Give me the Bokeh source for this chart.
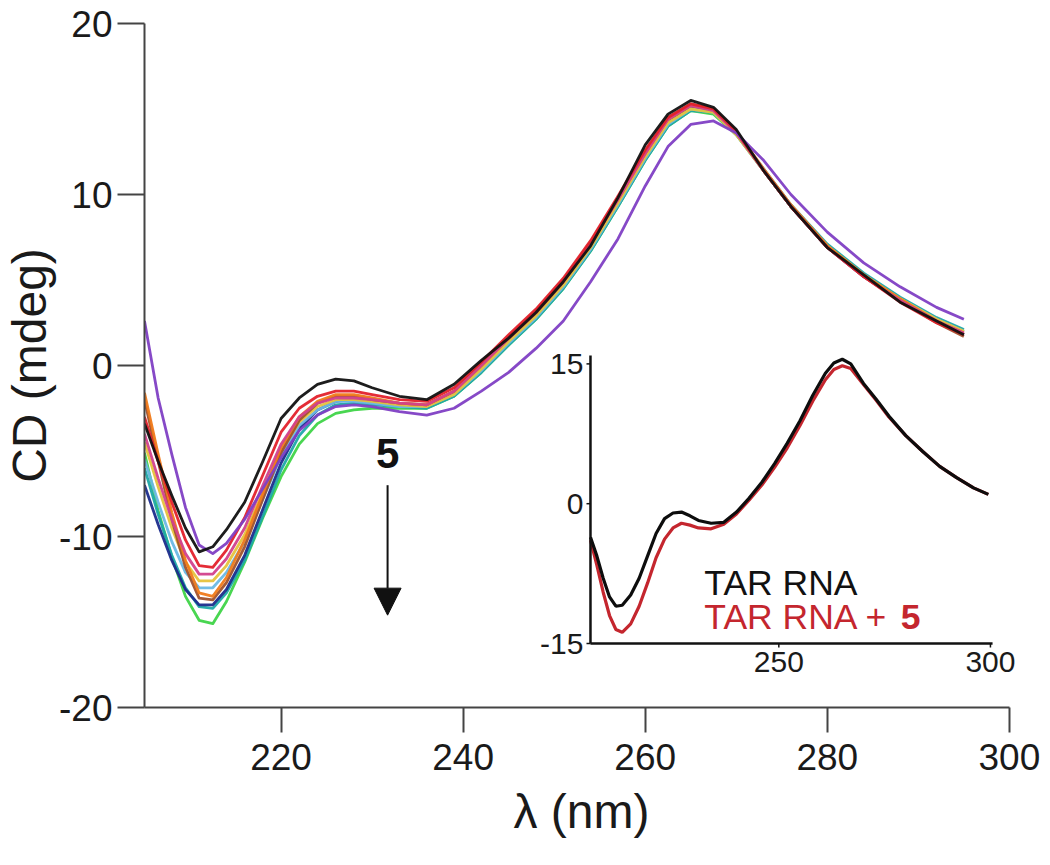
import math
from bokeh.plotting import figure
from bokeh.models import Range1d, Label, Arrow, NormalHead, FixedTicker, ColumnDataSource
from bokeh.core.properties import value
from bokeh.embed import file_html
from bokeh.resources import INLINE

# ---------------- data: main panel (CD titration spectra) ----------------
wavelength = [205, 206.5, 208, 209.5, 211, 212.5, 214, 216, 218, 220, 222, 224, 226, 228,
              230, 233, 236, 239, 242, 245, 248, 251, 254, 257, 260, 262.5, 265, 267.5,
              270, 273, 276, 280, 284, 288, 292, 295]

cd_green = [-5.1, -8.5, -11.2, -13.5, -14.9, -15.1, -13.8, -11.5, -8.9, -6.5, -4.6, -3.4, -2.8, -2.6,
            -2.5, -2.5, -2.5, -1.8, -0.4, 1.2, 2.7, 4.5, 6.7, 9.3, 12.0, 14.0, 14.9, 14.7,
            13.5, 11.4, 9.3, 7.0, 5.3, 3.9, 2.7, 2.0]
cd_teal = [-6.0, -8.7, -11.1, -13.0, -14.1, -14.2, -13.3, -11.4, -8.8, -6.1, -4.1, -2.9, -2.3, -2.2,
           -2.3, -2.4, -2.5, -1.8, -0.4, 1.2, 2.7, 4.5, 6.7, 9.3, 12.0, 14.0, 14.9, 14.8,
           13.6, 11.5, 9.4, 7.1, 5.4, 4.0, 2.8, 2.1]
cd_navy = [-7.0, -9.3, -11.4, -13.1, -14.0, -14.0, -13.1, -11.1, -8.4, -5.7, -3.7, -2.6, -2.1, -2.0,
           -2.1, -2.3, -2.4, -1.6, -0.1, 1.5, 3.0, 4.8, 7.0, 9.6, 12.3, 14.3, 15.1, 14.9,
           13.6, 11.4, 9.3, 6.9, 5.2, 3.8, 2.6, 1.8]
cd_lightblue = [-5.5, -8.0, -10.3, -12.1, -13.0, -13.0, -12.1, -10.3, -7.8, -5.3, -3.5, -2.6, -2.1, -2.1,
                -2.2, -2.4, -2.4, -1.7, -0.3, 1.3, 2.8, 4.6, 6.8, 9.4, 12.1, 14.1, 15.0, 14.8,
                13.5, 11.4, 9.3, 7.0, 5.3, 3.9, 2.7, 2.0]
cd_gold = [-4.5, -7.1, -9.5, -11.5, -12.6, -12.6, -11.7, -9.9, -7.4, -5.0, -3.3, -2.4, -2.0, -2.0,
           -2.1, -2.3, -2.4, -1.7, -0.2, 1.4, 2.9, 4.7, 6.9, 9.5, 12.2, 14.2, 15.0, 14.8,
           13.5, 11.4, 9.3, 7.0, 5.3, 3.9, 2.7, 2.0]
cd_brown = [-2.0, -5.6, -9.0, -11.8, -13.6, -13.7, -12.7, -10.6, -7.8, -5.1, -3.2, -2.2, -1.8, -1.8,
            -2.0, -2.2, -2.3, -1.5, 0.1, 1.7, 3.2, 5.0, 7.2, 9.8, 12.5, 14.5, 15.3, 15.0,
            13.7, 11.4, 9.3, 6.9, 5.2, 3.8, 2.5, 1.7]
cd_orange = [-1.6, -5.2, -8.6, -11.4, -13.3, -13.5, -12.4, -10.2, -7.5, -4.8, -3.0, -2.1, -1.7, -1.7,
             -1.9, -2.2, -2.3, -1.5, 0.0, 1.6, 3.1, 4.9, 7.1, 9.7, 12.4, 14.4, 15.2, 15.0,
             13.7, 11.5, 9.4, 7.0, 5.3, 3.9, 2.6, 1.9]
cd_magenta = [-4.0, -6.6, -9.0, -11.0, -12.2, -12.2, -11.3, -9.5, -7.0, -4.6, -3.0, -2.2, -1.9, -1.9,
              -2.0, -2.2, -2.3, -1.5, 0.0, 1.6, 3.1, 4.9, 7.1, 9.7, 12.4, 14.4, 15.2, 14.9,
              13.6, 11.4, 9.3, 6.9, 5.2, 3.8, 2.6, 1.9]
cd_red = [-3.0, -5.6, -8.0, -10.2, -11.7, -11.8, -10.8, -8.9, -6.4, -3.9, -2.5, -1.8, -1.5, -1.5,
          -1.7, -2.0, -2.1, -1.3, 0.2, 1.8, 3.3, 5.1, 7.3, 9.9, 12.6, 14.5, 15.3, 15.0,
          13.7, 11.4, 9.3, 6.9, 5.2, 3.7, 2.5, 1.8]
cd_purple = [2.6, -1.9, -5.2, -8.3, -10.5, -11.0, -10.4, -9.0, -7.2, -5.4, -3.8, -2.9, -2.4, -2.3,
             -2.4, -2.7, -2.9, -2.5, -1.5, -0.4, 1.0, 2.6, 4.9, 7.4, 10.5, 12.8, 14.1, 14.3,
             13.6, 12.0, 10.0, 7.8, 6.0, 4.6, 3.4, 2.7]
cd_black = [-3.4, -5.6, -7.6, -9.5, -10.9, -10.6, -9.6, -8.0, -5.6, -3.1, -1.9, -1.1, -0.8, -0.9,
            -1.3, -1.8, -2.0, -1.1, 0.3, 1.6, 3.1, 4.9, 7.0, 9.8, 12.9, 14.7, 15.5, 15.1,
            13.8, 11.4, 9.3, 6.9, 5.3, 3.7, 2.6, 1.8]

main_series = [cd_green, cd_teal, cd_navy, cd_lightblue, cd_gold, cd_brown, cd_orange,
               cd_magenta, cd_red, cd_purple, cd_black]
main_colors = ["#3fd448", "#1fa8a8", "#1b2c8c", "#6cb8e4", "#e6c23c", "#a0522d", "#f07a1a",
               "#d2418c", "#e3212b", "#7f3fc4", "#111111"]

main_xticks = [220, 240, 260, 280, 300]
main_yticks = [-20, -10, 0, 10, 20]
main_ytick_labels = ["-20", "-10", "0", "10", "20"]

# ---------------- data: inset (TAR RNA vs TAR RNA + 5) ----------------
inset_wavelength = [205.5, 207, 208.5, 210, 211.5, 213, 215, 217, 219, 221, 223, 225, 227, 229,
                    231, 234, 237, 240, 243, 246, 249, 252, 255, 258, 261, 263, 265, 267,
                    270, 273, 276, 280, 284, 288, 292, 296, 299.5]
inset_tar = [-3.6, -5.6, -8.0, -10.0, -11.0, -10.9, -9.8, -8.0, -5.6, -3.2, -1.6, -1.0, -0.9, -1.3,
             -1.8, -2.1, -2.0, -0.9, 0.6, 2.3, 4.3, 6.5, 8.9, 11.6, 14.0, 15.1, 15.5, 15.0,
             12.9, 11.2, 9.4, 7.3, 5.6, 4.0, 2.8, 1.7, 1.0]
inset_tar5 = [-3.9, -6.6, -9.5, -12.0, -13.5, -13.8, -12.9, -11.0, -8.5, -5.8, -3.8, -2.6, -2.1, -2.3,
              -2.6, -2.7, -2.2, -1.1, 0.4, 2.0, 3.9, 6.0, 8.4, 11.0, 13.3, 14.4, 14.8, 14.5,
              12.8, 11.1, 9.3, 7.3, 5.6, 4.0, 2.8, 1.7, 1.0]
inset_xticks = [250, 300]
inset_xtick_labels = ["250", "300"]
inset_yticks = [-15, 0, 15]
inset_ytick_labels = ["-15", "0", "15"]
legend_tar = "TAR RNA"
legend_tar5 = "TAR RNA + "
legend_cmpd = "5"
arrow_label = "5"

FONT = "Liberation Sans"
AX = "#444444"
TXT = "#1a1a1a"
RED = "#c4262e"

# ---------------- layout geometry (pixels) ----------------
X_MIN, X_MAX, X_AXIS_END = 205, 301, 300
PX_PER_NM = 9.125
FRAME_L, FRAME_T = 142, 23
FRAME_W, FRAME_H = int(round((X_MAX - X_MIN) * PX_PER_NM)), 684
FRAME_R, FRAME_B = FRAME_L + FRAME_W, FRAME_T + FRAME_H
FIG_W = 1046
# inset axes box in page pixels and its visible value ranges
IN_L, IN_R, IN_T, IN_B = 589, 992, 355, 643
IN_X0, IN_X1 = 205.5, 300.5
IN_Y0, IN_Y1 = -15.0, 15.9
kx = (IN_R - IN_L) / (IN_X1 - IN_X0)
ky = (IN_B - IN_T) / (IN_Y1 - IN_Y0)
inset_x_range = Range1d(IN_X0 - (IN_L - FRAME_L) / kx, IN_X1 + (FRAME_R - IN_R) / kx)
inset_y_range = Range1d(IN_Y0 - (FRAME_B - IN_B) / ky, IN_Y1 + (IN_T - FRAME_T) / ky)

# ---------------- main figure ----------------
p = figure(width=FIG_W, height=853, x_range=Range1d(X_MIN, X_MAX), y_range=Range1d(-20, 20),
           output_backend="svg", toolbar_location=None,
           min_border_left=FRAME_L, min_border_right=FIG_W - FRAME_R, min_border_top=FRAME_T,
           min_border_bottom=146)
p.extra_x_ranges = {"ix": inset_x_range}
p.extra_y_ranges = {"iy": inset_y_range}
p.outline_line_color = None
p.xgrid.visible = False
p.ygrid.visible = False
p.background_fill_color = "white"
p.border_fill_color = "white"

for ys, col in zip(main_series, main_colors):
    p.line(wavelength, ys, line_color=col, line_width=2.8, line_alpha=0.95, line_join="round")

for ax in (p.xaxis[0], p.yaxis[0]):
    ax.axis_line_color = AX
    ax.axis_line_width = 2
    ax.major_tick_line_color = AX
    ax.major_tick_line_width = 2
    ax.major_tick_in = 0
    ax.minor_tick_line_color = None
    ax.major_label_text_font = FONT
    ax.major_label_text_font_size = "37px"
    ax.major_label_text_color = TXT
    ax.axis_label_text_font = FONT
    ax.axis_label_text_font_size = "48px"
    ax.axis_label_text_font_style = "normal"
    ax.axis_label_text_color = TXT

p.xaxis[0].ticker = FixedTicker(ticks=main_xticks)
p.xaxis[0].bounds = (X_MIN, X_AXIS_END)
p.yaxis[0].ticker = FixedTicker(ticks=main_yticks)
p.yaxis[0].major_label_overrides = {t: s for t, s in zip(main_yticks, main_ytick_labels)}
p.xaxis[0].major_tick_out = 25
p.yaxis[0].major_tick_out = 27
p.xaxis[0].major_label_standoff = 11
p.yaxis[0].major_label_standoff = 5
p.xaxis[0].axis_label = "\u03bb (nm)"
p.xaxis[0].axis_label_standoff = 12
p.yaxis[0].axis_label = "CD (mdeg)"
p.yaxis[0].axis_label_standoff = 0

p.add_layout(Label(x=231.7, y=-5.15, text=arrow_label, text_align="center",
                   text_baseline="middle", text_font=FONT, text_font_size="42px",
                   text_font_style="bold", text_color="#111111"))
p.add_layout(Arrow(end=NormalHead(size=27, fill_color="#111111", line_color="#111111"),
                   x_start=231.7, y_start=-7.0, x_end=231.7, y_end=-14.6,
                   line_color="#111111", line_width=2))

# ---------------- inset (drawn through its own ranges) ----------------
p.line(inset_wavelength, inset_tar5, line_color=RED, line_width=3.2,
       x_range_name="ix", y_range_name="iy")
p.line(inset_wavelength, inset_tar, line_color="#0d0d0d", line_width=3.2,
       x_range_name="ix", y_range_name="iy")

# inset axis lines
p.segment(x0=[IN_X0, IN_X0], y0=[IN_Y0, IN_Y0], x1=[IN_X0, IN_X1], y1=[IN_Y1, IN_Y0],
          line_color="#111111", line_width=2.5, x_range_name="ix", y_range_name="iy")
# inset ticks (4 px long, outward)
tick_px = 4
p.segment(x0=[IN_X0] * len(inset_yticks), y0=inset_yticks,
          x1=[IN_X0 - tick_px / kx] * len(inset_yticks), y1=inset_yticks,
          line_color="#111111", line_width=1.5, x_range_name="ix", y_range_name="iy")
p.segment(x0=inset_xticks, y0=[IN_Y0] * len(inset_xticks),
          x1=inset_xticks, y1=[IN_Y0 - tick_px / ky] * len(inset_xticks),
          line_color="#111111", line_width=1.5, x_range_name="ix", y_range_name="iy")
# inset tick labels
ysrc = ColumnDataSource(dict(x=[IN_X0] * len(inset_yticks), y=inset_yticks, t=inset_ytick_labels))
p.text(x="x", y="y", text="t", source=ysrc, x_offset=-7, text_align="right",
       text_baseline="middle", text_font=value(FONT), text_font_size="30px",
       text_color=TXT, x_range_name="ix", y_range_name="iy")
xsrc = ColumnDataSource(dict(x=inset_xticks, y=[IN_Y0] * len(inset_xticks), t=inset_xtick_labels))
p.text(x="x", y="y", text="t", source=xsrc, y_offset=8, text_align="center",
       text_baseline="top", text_font=value(FONT), text_font_size="30px",
       text_color=TXT, x_range_name="ix", y_range_name="iy")

# inset legend texts
p.add_layout(Label(x=232.4, y=-8.5, text=legend_tar, text_align="left",
                   text_baseline="alphabetic", text_font=FONT, text_font_size="35.5px",
                   text_color="#111111", x_range_name="ix", y_range_name="iy"))
p.add_layout(Label(x=232.4, y=-12.2, text=legend_tar5, text_align="left",
                   text_baseline="alphabetic", text_font=FONT, text_font_size="35.5px",
                   text_color=RED, x_range_name="ix", y_range_name="iy"))
p.add_layout(Label(x=278.8, y=-12.2, text=legend_cmpd, text_align="left",
                   text_baseline="alphabetic", text_font=FONT, text_font_size="35.5px",
                   text_font_style="bold", text_color=RED, x_range_name="ix", y_range_name="iy"))

open("out.html", "w").write(file_html(p, INLINE))
